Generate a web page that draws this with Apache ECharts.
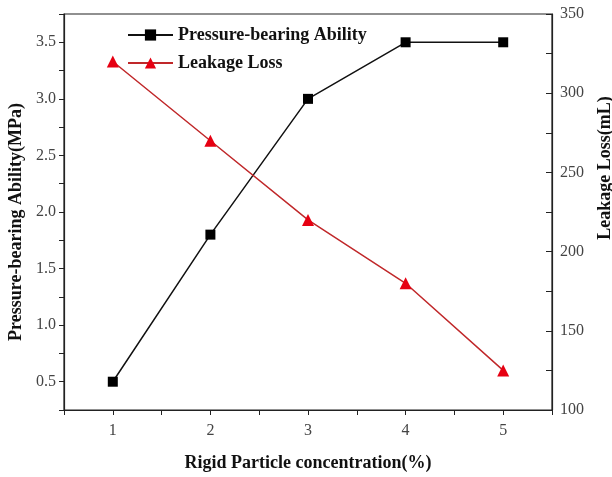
<!DOCTYPE html>
<html>
<head>
<meta charset="utf-8">
<script src="https://cdn.jsdelivr.net/npm/echarts@6/dist/echarts.min.js"></script>
<style>
  html, body { margin: 0; padding: 0; background: #fff; }
  #chart { width: 612px; height: 477px; }
</style>
</head>
<body>
<div id="chart"></div>
<script>
// data
const concentration = [1, 2, 3, 4, 5];
const pressure = [0.5, 1.8, 3.0, 3.5, 3.5];
const leakage = [320, 270, 220, 180, 125];

const serif = "'Liberation Serif', 'Times New Roman', serif";

const chart = echarts.init(document.getElementById("chart"));

const option = {
  backgroundColor: "#fff",
  textStyle: { fontFamily: serif },
  grid: {
    left: 64, right: 60, top: 14, bottom: 67,
    outerBoundsMode: "none",
    show: true, borderColor: "#222", borderWidth: 1.2,
  },
  legend: {
    left: 122, top: 21, orient: "vertical",
    itemWidth: 45, itemHeight: 14, itemGap: 10,
    textStyle: { fontFamily: serif, fontWeight: "bold", fontSize: 18, color: "#111" },
    data: ["Pressure-bearing Ability", "Leakage Loss"],
  },
  xAxis: {
    type: "value", min: 0.5, max: 5.5, interval: 0.5,
    name: "Rigid Particle concentration(%)",
    nameLocation: "middle", nameGap: 44,
    nameTextStyle: { fontFamily: serif, fontWeight: "bold", fontSize: 18, color: "#111" },
    axisLine: { lineStyle: { color: "#222", width: 1.2 } },
    axisTick: { length: 5, lineStyle: { color: "#222" } },
    axisLabel: {
      margin: 13, fontSize: 16, color: "#444", fontFamily: serif,
      formatter: (v) => (Number.isInteger(v) ? String(v) : ""),
    },
    splitLine: { show: false },
  },
  yAxis: [
    {
      type: "value", min: 0.25, max: 3.75, interval: 0.25,
      name: "Pressure-bearing Ability(MPa)",
      nameLocation: "middle", nameGap: 38, nameRotate: 90,
      nameTextStyle: {
        fontFamily: serif, fontWeight: "bold", fontSize: 18, color: "#111",
        padding: [0, 20, 0, 0],
      },
      axisLine: { show: true, lineStyle: { color: "#222", width: 1.2 } },
      axisTick: { show: true, length: 5, lineStyle: { color: "#222" } },
      axisLabel: {
        margin: 8, fontSize: 16, color: "#444", fontFamily: serif,
        formatter: (v) => (Math.abs(v * 2 - Math.round(v * 2)) < 1e-6 ? v.toFixed(1) : ""),
      },
      splitLine: { show: false },
    },
    {
      type: "value", min: 100, max: 350, interval: 25,
      name: "Leakage Loss(mL)",
      nameLocation: "middle", nameGap: 44, nameRotate: 90,
      nameTextStyle: {
        fontFamily: serif, fontWeight: "bold", fontSize: 18, color: "#111",
        padding: [0, 0, 0, 88],
      },
      axisLine: { show: true, lineStyle: { color: "#222", width: 1.2 } },
      axisTick: { show: true, inside: true, length: 6, lineStyle: { color: "#222" } },
      axisLabel: {
        margin: 8, fontSize: 16, color: "#444", fontFamily: serif,
        formatter: (v) => (v % 50 === 0 ? String(v) : ""),
      },
      splitLine: { show: false },
    },
  ],
  series: [
    {
      name: "Pressure-bearing Ability",
      type: "line",
      yAxisIndex: 0,
      data: concentration.map((c, i) => [c, pressure[i]]),
      symbol: "rect", symbolSize: 10,
      lineStyle: { color: "#111", width: 1.5 },
      itemStyle: { color: "#000" },
    },
    {
      name: "Leakage Loss",
      type: "line",
      yAxisIndex: 1,
      data: concentration.map((c, i) => [c, leakage[i]]),
      symbol: "triangle", symbolSize: 12,
      lineStyle: { color: "#c0282a", width: 1.5 },
      itemStyle: { color: "#e60012" },
    },
  ],
};

chart.setOption(option);
</script>
</body>
</html>
